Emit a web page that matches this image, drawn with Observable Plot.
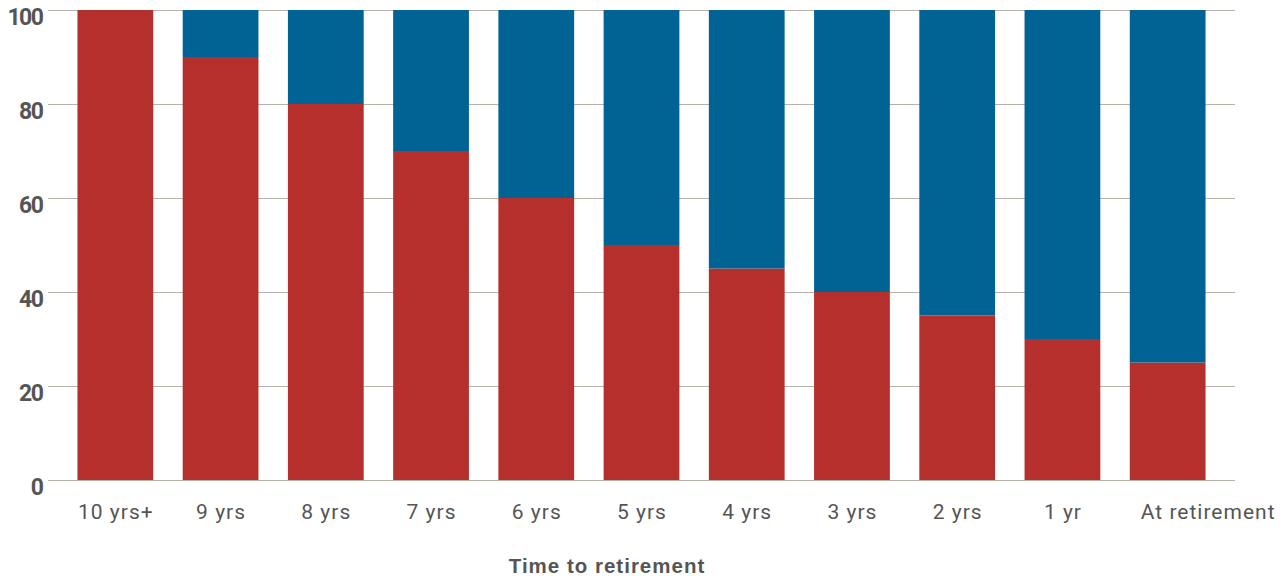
<!DOCTYPE html>
<html>
<head>
<meta charset="utf-8">
<script src="https://cdn.jsdelivr.net/npm/d3@7"></script>
<script src="https://cdn.jsdelivr.net/npm/@observablehq/plot@0.6"></script>
<style>
  html, body { margin: 0; padding: 0; background: #fff; }
  #chart svg { display: block; }
  #chart g[aria-label="x-axis tick label"] text { letter-spacing: 1px; }
  #chart g[aria-label="y-axis tick label"] text { letter-spacing: -1.5px; }
  #chart g[aria-label="text"] text { letter-spacing: 1px; }
</style>
</head>
<body>
<div id="chart"></div>
<script>
const categories = ["10 yrs+", "9 yrs", "8 yrs", "7 yrs", "6 yrs", "5 yrs", "4 yrs", "3 yrs", "2 yrs", "1 yr", "At retirement"];
const growth = [100, 90, 80, 70, 60, 50, 45, 40, 35, 30, 25];
const defensive = [0, 10, 20, 30, 40, 50, 55, 60, 65, 70, 75];
const yTicks = [0, 20, 40, 60, 80, 100];
const xTitle = "Time to retirement";

const rows = [];
categories.forEach((c, i) => {
  rows.push({cat: c, series: "growth", value: growth[i]});
  rows.push({cat: c, series: "defensive", value: defensive[i]});
});

const xLabelStyle = {tickSize: 0, tickPadding: 24, fontSize: 21, fill: "#555", fontFamily: "Roboto, sans-serif", label: null};

const plot = Plot.plot({
  width: 1287,
  height: 576,
  marginLeft: 48,
  marginRight: 52,
  marginTop: 10,
  marginBottom: 96,
  style: {fontFamily: "Roboto, 'Noto Sans', sans-serif", background: "#fff"},
  x: {domain: categories, padding: 0.28, round: false, label: null},
  y: {domain: [0, 100], label: null},
  color: {domain: ["growth", "defensive"], range: ["#b5302d", "#006394"]},
  marks: [
    Plot.ruleY(yTicks, {stroke: "#b8b2aa", strokeWidth: 1}),
    Plot.barY(rows, {x: "cat", y: "value", fill: "series", order: ["growth", "defensive"]}),
    Plot.axisY({ticks: yTicks, tickSize: 0, tickPadding: 6, dy: 7, fontSize: 23, fontWeight: "bold", fill: "#555", fontFamily: "Roboto, sans-serif", label: null}),
    Plot.axisX({...xLabelStyle, ticks: categories.slice(0, 10)}),
    Plot.axisX({...xLabelStyle, ticks: categories.slice(10), dx: 40}),
    Plot.text([xTitle], {text: d => d, frameAnchor: "bottom", dy: 92, dx: -35, fontSize: 20.5, fontWeight: "bold", fill: "#555", fontFamily: "'Liberation Sans', Arial, sans-serif"})
  ]
});
document.getElementById("chart").appendChild(plot);
</script>
</body>
</html>
